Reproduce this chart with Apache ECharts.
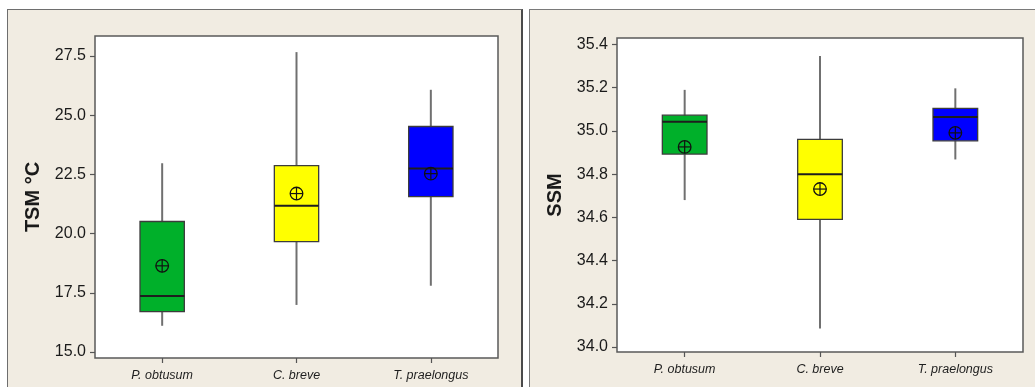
<!DOCTYPE html>
<html>
<head>
<meta charset="utf-8">
<script src="https://cdn.jsdelivr.net/npm/echarts@6/dist/echarts.min.js"></script>
<style>
  html, body { margin: 0; padding: 0; background: #ffffff; width: 1035px; height: 387px; overflow: hidden; }
  .panel { position: absolute; background: #f1ece2; box-sizing: content-box; }
  #p1 { left: 7px; top: 9px; width: 513px; height: 400px; border: 1px solid #6e6e6e; border-right: 2px solid #4a4a4a; }
  #p2 { left: 529px; top: 9px; width: 520px; height: 400px; border: 1px solid #7a7a7a; }
  .chart { position: absolute; left: 0; top: 0; width: 100%; height: 377px; }
</style>
</head>
<body>
<div class="panel" id="p1"><div class="chart" id="c1"></div></div>
<div class="panel" id="p2"><div class="chart" id="c2"></div></div>
<script>
// ---------- data ----------
const categories = ['P. obtusum', 'C. breve', 'T. praelongus'];
const boxColors = ['#00b02a', '#ffff00', '#0000ff'];

// TSM °C
const tsmMin    = [16.11, 16.99, 17.80];
const tsmQ1     = [16.71, 19.66, 21.56];
const tsmMedian = [17.37, 21.18, 22.75];
const tsmQ3     = [20.51, 22.87, 24.52];
const tsmMax    = [22.97, 27.66, 26.07];
const tsmMean   = [18.64, 21.69, 22.53];
const tsmTicks  = [15.0, 17.5, 20.0, 22.5, 25.0, 27.5];

// SSM
const ssmMin    = [34.68, 34.086, 34.868];
const ssmQ1     = [34.893, 34.591, 34.954];
const ssmMedian = [35.042, 34.799, 35.065];
const ssmQ3     = [35.073, 34.961, 35.104];
const ssmMax    = [35.19, 35.347, 35.197];
const ssmMean   = [34.926, 34.731, 34.991];
const ssmTicks  = [34.0, 34.2, 34.4, 34.6, 34.8, 35.0, 35.2, 35.4];

// ---------- helpers ----------
function rows(mn, q1, md, q3, mx, mean) {
  return categories.map((c, i) => [i, mn[i], q1[i], md[i], q3[i], mx[i], mean[i]]);
}

function renderBox(params, api) {
  const i = api.value(0);
  const pMin = api.coord([i, api.value(1)]);
  const pQ1 = api.coord([i, api.value(2)]);
  const pMed = api.coord([i, api.value(3)]);
  const pQ3 = api.coord([i, api.value(4)]);
  const pMax = api.coord([i, api.value(5)]);
  const pMean = api.coord([i, api.value(6)]);
  const bw = api.size([1, 0])[0] * 0.33;
  const x = pMed[0];
  const r = 6.3;
  return {
    type: 'group',
    children: [
      { type: 'line', shape: { x1: x, y1: pMax[1], x2: x, y2: pMin[1] },
        style: { stroke: '#707070', lineWidth: 2 } },
      { type: 'rect', shape: { x: x - bw / 2, y: pQ3[1], width: bw, height: pQ1[1] - pQ3[1] },
        style: { fill: boxColors[i], stroke: '#3c3c3c', lineWidth: 1.3 } },
      { type: 'line', shape: { x1: x - bw / 2, y1: pMed[1], x2: x + bw / 2, y2: pMed[1] },
        style: { stroke: '#1e1e1e', lineWidth: 2 } },
      { type: 'circle', shape: { cx: pMean[0], cy: pMean[1], r: r },
        style: { fill: 'none', stroke: '#111', lineWidth: 1.3 } },
      { type: 'line', shape: { x1: pMean[0] - r, y1: pMean[1], x2: pMean[0] + r, y2: pMean[1] },
        style: { stroke: '#111', lineWidth: 1.2 } },
      { type: 'line', shape: { x1: pMean[0], y1: pMean[1] - r, x2: pMean[0], y2: pMean[1] + r },
        style: { stroke: '#111', lineWidth: 1.2 } }
    ]
  };
}

function makeOption(grid, yName, yMin, yMax, ticks, data) {
  return {
    animation: false,
    grid: Object.assign({ show: true, backgroundColor: '#ffffff', borderColor: '#5a5a5a', borderWidth: 1.5 }, grid),
    xAxis: {
      type: 'category',
      data: categories,
      boundaryGap: true,
      axisLine: { show: false },
      axisTick: { show: true, alignWithLabel: true, length: 5, lineStyle: { color: '#555', width: 1.2 } },
      axisLabel: { color: '#1e1e1e', fontSize: 12.5, fontStyle: 'italic', fontFamily: 'Liberation Sans, Arial, sans-serif', margin: 11 },
      splitLine: { show: false }
    },
    yAxis: {
      type: 'value',
      min: yMin,
      max: yMax,
      name: yName,
      nameLocation: 'middle',
      nameGap: 52,
      nameTextStyle: { color: '#1a1a1a', fontSize: 20, fontWeight: 'bold', fontFamily: 'Liberation Sans, Arial, sans-serif' },
      axisLine: { show: false },
      axisTick: { show: true, length: 5, customValues: ticks, lineStyle: { color: '#555', width: 1.2 } },
      axisLabel: { color: '#1a1a1a', fontSize: 16, fontFamily: 'Liberation Sans, Arial, sans-serif', margin: 9,
                   customValues: ticks, formatter: v => Number(v).toFixed(1) },
      splitLine: { show: false }
    },
    series: [{
      type: 'custom',
      renderItem: renderBox,
      encode: { x: 0, y: [1, 2, 3, 4, 5, 6] },
      data: data,
      clip: false
    }]
  };
}

const c1 = echarts.init(document.getElementById('c1'));
c1.setOption(makeOption({ left: 87, top: 26, width: 403, height: 322 }, 'TSM °C', 14.75, 28.34, tsmTicks,
  rows(tsmMin, tsmQ1, tsmMedian, tsmQ3, tsmMax, tsmMean)));

const c2 = echarts.init(document.getElementById('c2'));
c2.setOption(makeOption({ left: 87, top: 28, width: 406, height: 314 }, 'SSM', 33.977, 35.43, ssmTicks,
  rows(ssmMin, ssmQ1, ssmMedian, ssmQ3, ssmMax, ssmMean)));
</script>
</body>
</html>
